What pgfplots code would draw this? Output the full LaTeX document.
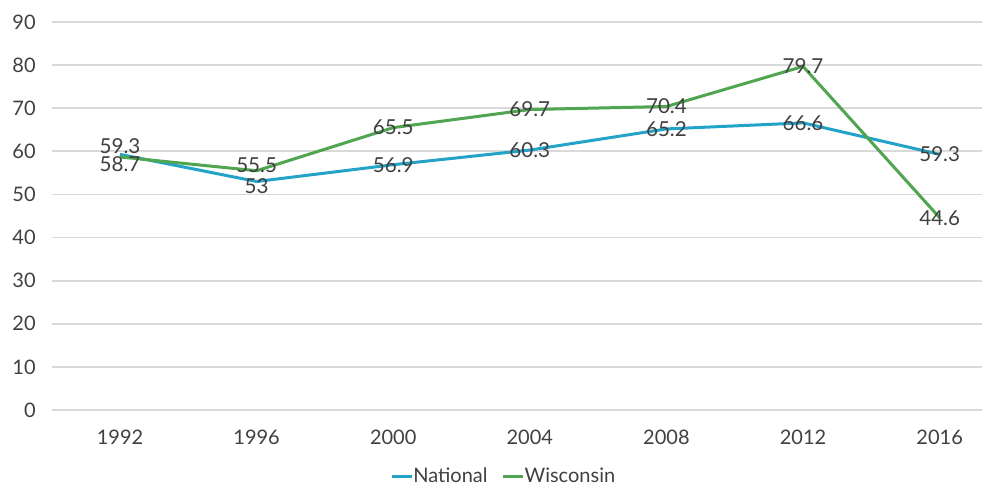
\documentclass[border=0pt]{standalone}
\usepackage{pgfplots}
\pgfplotsset{compat=1.18}
\usepackage{pgfplotstable}
\usepackage{fontspec}
\setmainfont{Lato}
\definecolor{natc}{HTML}{23A3C8}
\definecolor{wisc}{HTML}{4FA550}
\definecolor{txt}{HTML}{404040}
\definecolor{gridc}{HTML}{D9D9D9}
\pgfplotstableread{
x y dy
0 59.3 4
1 53 -2.5
2 56.9 0
3 60.3 0
4 65.2 0
5 66.6 0
6 59.3 0
}\national
\pgfplotstableread{
x y dy
0 58.7 -3.5
1 55.5 3
2 65.5 0
3 69.7 0
4 70.4 0
5 79.7 0
6 44.6 0
}\wisconsin
\begin{document}
\begin{tikzpicture}
\useasboundingbox (0,0) rectangle (491pt,244.5pt);
\begin{axis}[
  at={(25.85pt,39.5pt)}, anchor=south west,
  scale only axis, width=465.15pt, height=194pt,
  xmin=-0.5, xmax=6.31, ymin=0, ymax=90,
  xtick={0,...,6}, xticklabels={1992,1996,2000,2004,2008,2012,2016},
  ytick={0,10,...,90},
  axis line style={draw=none}, tick style={draw=none},
  ymajorgrids, grid style={gridc, line width=0.9pt},
  /pgf/number format/assume math mode=true,
  tick label style={font=\fontsize{10}{12}\selectfont, text=txt},
  yticklabel style={xshift=-4.5pt},
  xticklabel style={yshift=-6.5pt},
  clip=false,
  legend style={at={(0.487,-0.172)}, anchor=center, draw=none, fill=none,
    legend columns=-1, font=\fontsize{10}{12}\selectfont, text=txt,
    /tikz/every even column/.append style={column sep=5pt},
    /tikz/every odd column/.append style={column sep=-2pt}},
  legend image code/.code={\draw[#1] (0pt,0pt) -- (10pt,0pt);},
  legend cell align=left,
  nodes near coords,
  visualization depends on={\thisrow{dy} \as \dy},
  every node near coord/.append style={anchor=center, font=\fontsize{10.3}{12}\selectfont, text=txt, yshift=\dy},
]
\addplot[natc, line width=1.5pt, mark=none, point meta=explicit symbolic] table[x=x, y=y, meta=y] {\national};
\addlegendentry{National}
\addplot[wisc, line width=1.5pt, mark=none, point meta=explicit symbolic] table[x=x, y=y, meta=y] {\wisconsin};
\addlegendentry{Wisconsin}
\end{axis}
\end{tikzpicture}
\end{document}
